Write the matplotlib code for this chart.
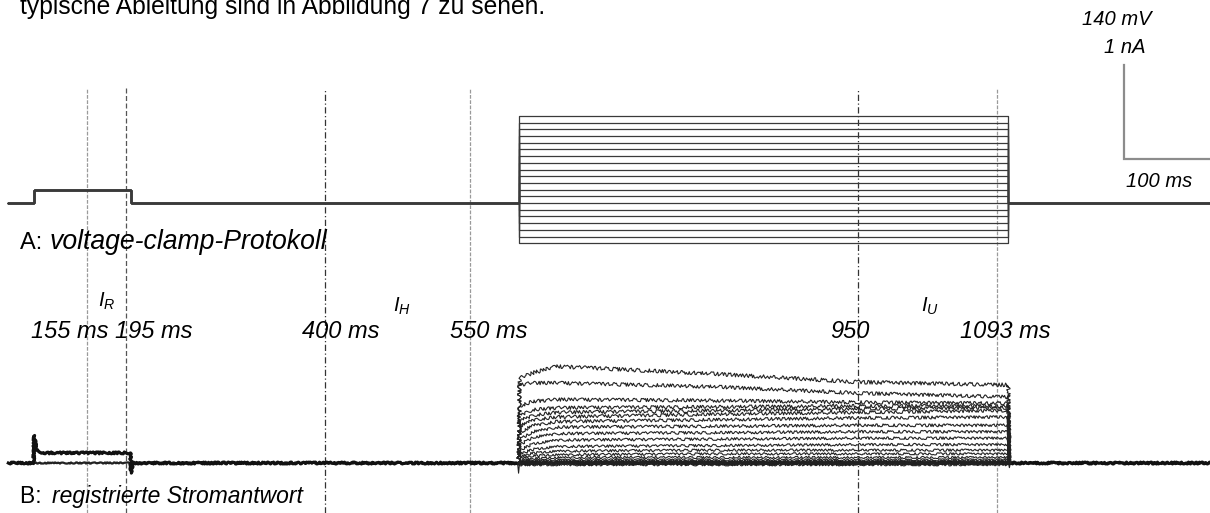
#!/usr/bin/python3

"""
Voltage-clamp protocol (A) and the recorded current sweeps (B),
with the analysis windows I_R, I_H and I_U marked as dashed lines.
"""

import matplotlib
matplotlib.use("Agg")
import matplotlib.pyplot as plt

W, H = 1210, 513

plt.rcParams["font.family"] = ["Liberation Sans", "DejaVu Sans"]
plt.rcParams["mathtext.fontset"] = "custom"
plt.rcParams["mathtext.it"] = "Liberation Sans:italic"
plt.rcParams["mathtext.rm"] = "Liberation Sans"

# Protocol (ms, mV)
t_start, t_end = 74, 1320
holding_mv = -60
prepulse_mv = -40
prepulse_on, prepulse_off = 100, 200
step_on, step_off = 600, 1105
step_levels_mv = [-120, -110, -100, -90, -80, -70, -60, -50, -40, -30,
                  -20, -10, 0, 10, 20, 30, 40, 50, 60, 70]

# Current during each step (nA), sampled at these times (ms)
sample_times = [601, 615, 640, 800, 950, 1100]
step_currents_na = [
    [-0.02, -0.02, -0.02, -0.02, -0.02, -0.02],
    [-0.01, -0.01, -0.01, -0.01, -0.01, -0.01],
    [0.00, 0.00, 0.00, 0.00, 0.00, 0.00],
    [0.005, 0.01, 0.01, 0.01, 0.01, 0.01],
    [0.01, 0.02, 0.02, 0.02, 0.02, 0.02],
    [0.02, 0.03, 0.035, 0.035, 0.035, 0.035],
    [0.03, 0.05, 0.06, 0.06, 0.06, 0.06],
    [0.05, 0.08, 0.09, 0.10, 0.10, 0.10],
    [0.07, 0.11, 0.13, 0.14, 0.14, 0.14],
    [0.10, 0.15, 0.18, 0.19, 0.20, 0.20],
    [0.14, 0.21, 0.25, 0.26, 0.27, 0.27],
    [0.20, 0.28, 0.32, 0.33, 0.34, 0.34],
    [0.26, 0.34, 0.39, 0.40, 0.41, 0.41],
    [0.33, 0.41, 0.45, 0.47, 0.49, 0.50],
    [0.40, 0.47, 0.50, 0.53, 0.55, 0.57],
    [0.46, 0.52, 0.55, 0.57, 0.59, 0.60],
    [0.52, 0.58, 0.60, 0.61, 0.62, 0.62],
    [0.62, 0.67, 0.69, 0.68, 0.66, 0.65],
    [0.85, 0.87, 0.87, 0.83, 0.76, 0.72],
    [0.92, 0.98, 1.05, 0.97, 0.88, 0.85],
]

# Response to the short prepulse, shared by all sweeps
prepulse_times = [t_start, 100, 100.5, 103, 110, 200, 200.5, 202, t_end]
prepulse_na = [0, 0, 0.30, 0.14, 0.11, 0.11, -0.11, 0, 0]

# Capacitive transients at step on/off
cap_times = [599, 600, 601, 1105, 1106, 1107]
cap_na = [0, -0.11, 0, 0, -0.05, 0]

# Analysis windows (ms)
markers_ms = [155, 195, 400, 550, 950, 1093]
marker_styles = [("#9a9a9a", (3, 1.2)), ("#555555", (4, 2)),
                 ("#333333", (5, 2, 1, 2)), ("#9a9a9a", (3, 1.2)),
                 ("#333333", (5, 2, 1, 2)), ("#9a9a9a", (3, 1.2))]

# Scale bar: 140 mV / 1 nA by 100 ms
bar_t, bar_v = 1224, 6
bar_mv, bar_ms = 140, 100

XLIM = (65.4, 1312.8)


def fx(px):
    return px / W


def fy(py):
    return 1 - py / H


def panel(fig, top_px, bottom_px, ylim):
    ax = fig.add_axes([0, fy(bottom_px), 1, (bottom_px - top_px) / H])
    ax.set_xlim(*XLIM)
    ax.set_ylim(*ylim)
    ax.axis("off")
    ax.patch.set_alpha(0)
    return ax


def draw_markers(fig):
    ax = panel(fig, 0, H, (0, 1))
    for t, (color, dashes) in zip(markers_ms, marker_styles):
        ax.plot([t, t], [0, fy(88)], color=color, lw=0.9, dashes=dashes)


def draw_protocol(ax):
    for v in step_levels_mv:
        times = [t_start, prepulse_on, prepulse_off, step_on, step_off, t_end]
        volts = [holding_mv, prepulse_mv, holding_mv, v, holding_mv, holding_mv]
        ax.plot(times, volts, drawstyle="steps-post", color="#3a3a3a", lw=0.9)
    # scale bar
    ax.plot([bar_t, bar_t, bar_t + bar_ms], [bar_v + bar_mv, bar_v, bar_v],
            color="#8c8c8c", lw=1.6, solid_joinstyle="miter")


def draw_currents(ax):
    base, = ax.plot([t_start, t_end], [0, 0], color="#222222", lw=1.6)
    base.set_sketch_params(0.6, 3, 6)
    pre, = ax.plot(prepulse_times, prepulse_na, color="#111111", lw=2.2)
    pre.set_sketch_params(1.0, 2, 6)
    for row in step_currents_na:
        times = [step_on] + sample_times + [step_off, step_off + 1]
        vals = [0] + row + [row[-1], 0]
        line, = ax.plot(times, vals, color="#222222", lw=0.8)
        line.set_sketch_params(1.0 + abs(row[-1]), 3, 6)
    ax.plot(cap_times, cap_na, color="#222222", lw=0.8)


def draw_text(fig):
    fig.text(fx(20), fy(14), "typische Ableitung sind in Abbildung 7 zu sehen.",
             fontsize=17.7, va="baseline")
    fig.text(fx(20), fy(249), "A: ", fontsize=17, va="baseline")
    fig.text(fx(50), fy(249), "voltage-clamp-Protokoll", fontsize=19.2,
             style="italic", va="baseline")
    fig.text(fx(20), fy(503), "B: ", fontsize=16.5, va="baseline")
    fig.text(fx(52), fy(503), "registrierte Stromantwort", fontsize=16.5,
             style="italic", va="baseline")

    for label, x in [("155 ms", 31), ("195 ms", 115), ("400 ms", 302),
                     ("550 ms", 450), ("950", 830), ("1093 ms", 960)]:
        fig.text(fx(x), fy(338), label, fontsize=17, style="italic",
                 va="baseline")
    for label, x, y in [(r"$I_R$", 107, 307), (r"$I_H$", 402, 312),
                        (r"$I_U$", 930, 312)]:
        fig.text(fx(x), fy(y), label, fontsize=14.5, ha="center", va="baseline")

    fig.text(fx(1117), fy(25), "140 mV", fontsize=14.5, style="italic",
             ha="center", va="baseline")
    fig.text(fx(1125), fy(53), "1 nA", fontsize=14.5, style="italic",
             ha="center", va="baseline")
    fig.text(fx(1159), fy(187), "100 ms", fontsize=14.5, style="italic",
             ha="center", va="baseline")


def main():
    fig = plt.figure(figsize=(W / 100, H / 100), dpi=100)
    fig.patch.set_facecolor("white")

    draw_markers(fig)
    # 0.67 px per mV, holding level at y = 203 px
    ax_a = panel(fig, 60, 260, (-145, 153.4))
    draw_protocol(ax_a)
    # 92 px per nA, zero current at y = 463 px
    ax_b = panel(fig, 340, 513, (-0.543, 1.337))
    draw_currents(ax_b)
    draw_text(fig)

    fig.savefig("out.png", dpi=100, facecolor="white")


if __name__ == "__main__":
    main()
